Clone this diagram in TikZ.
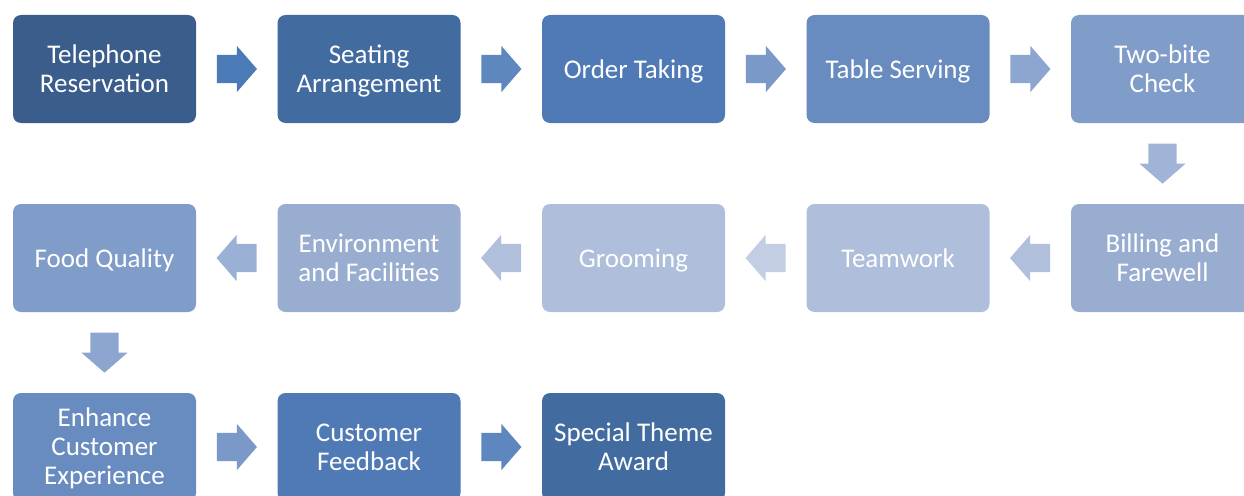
\documentclass[tikz,border=0pt]{standalone}
\usepackage{fontspec}
\setmainfont{Carlito}
\usetikzlibrary{shapes.arrows,calc}

\begin{document}
\begin{tikzpicture}[x=1pt, y={(0,-1pt)},
    stage/.style={rectangle, rounded corners=8pt, minimum width=183pt, minimum height=108pt,
        inner sep=0pt, align=center, text=white, font=\fontsize{27}{29}\selectfont,
        text height=19pt, text depth=0pt},
    twoline/.style={stage, text height=47.6pt},
    threeline/.style={stage, text height=74.5pt},
    blockarrow/.style={single arrow, draw=none, minimum height=40pt, inner xsep=0pt, inner ysep=14pt,
        single arrow head extend=9pt, single arrow tip angle=98, anchor=tail},
    downarrow/.style={blockarrow, shape border rotate=270, inner xsep=14pt, inner ysep=0pt},
    leftarrow/.style={blockarrow, shape border rotate=180}]
    % Define colors
    \definecolor{shadeA}{RGB}{58,93,140}
    \definecolor{shadeB}{RGB}{66,108,160}
    \definecolor{shadeC}{RGB}{79,122,181}
    \definecolor{shadeD}{RGB}{104,140,192}
    \definecolor{shadeE}{RGB}{128,156,200}
    \definecolor{shadeF}{RGB}{152,173,208}
    \definecolor{shadeG}{RGB}{174,190,219}
    \definecolor{arrowA}{RGB}{74,123,183}
    \definecolor{arrowB}{RGB}{94,135,192}
    \definecolor{arrowC}{RGB}{122,153,200}
    \definecolor{arrowD}{RGB}{140,166,208}
    \definecolor{arrowE}{RGB}{160,180,216}
    \definecolor{arrowF}{RGB}{175,191,220}
    \definecolor{arrowG}{RGB}{195,205,228}
    \definecolor{arrowH}{RGB}{155,176,213}

    \clip (0,0) rectangle (1244,495);

    % First row
    \node[twoline, fill=shadeA] (phone) at (104.5,69) {Telephone\\Reservation};
    \node[twoline, fill=shadeB] (seating) at (369,69) {Seating\\Arrangement};
    \node[stage, fill=shadeC] (order) at (633.5,69) {Order Taking};
    \node[stage, fill=shadeD] (serving) at (898,69) {Table Serving};
    \node[twoline, fill=shadeE] (check) at (1162.5,69) {Two-bite\\Check};

    % Second row
    \node[twoline, fill=shadeF] (billing) at (1162.5,258) {Billing and\\Farewell};
    \node[stage, fill=shadeG] (teamwork) at (898,258) {Teamwork};
    \node[stage, fill=shadeG] (grooming) at (633.5,258) {Grooming};
    \node[twoline, fill=shadeF] (environment) at (369,258) {Environment\\and Facilities};
    \node[stage, fill=shadeE] (food) at (104.5,258) {Food Quality};

    % Third row
    \node[threeline, fill=shadeD] (enhance) at (104.5,447) {Enhance\\Customer\\Experience};
    \node[twoline, fill=shadeC] (feedback) at (369,447) {Customer\\Feedback};
    \node[twoline, fill=shadeB] (award) at (633.5,447) {Special Theme\\Award};

    % Arrows (tail placed 20pt back from the gap centre)
    \node[blockarrow, fill=arrowA] (a1) at ($($(phone)!0.5!(seating)$)!20pt!(phone)$) {};
    \node[blockarrow, fill=arrowB] (a2) at ($($(seating)!0.5!(order)$)!20pt!(seating)$) {};
    \node[blockarrow, fill=arrowC] (a3) at ($($(order)!0.5!(serving)$)!20pt!(order)$) {};
    \node[blockarrow, fill=arrowD] (a4) at ($($(serving)!0.5!(check)$)!20pt!(serving)$) {};
    \node[downarrow, fill=arrowE] (a5) at ($($(check)!0.5!(billing)$)!20pt!(check)$) {};
    \node[leftarrow, fill=arrowF] (a6) at ($($(billing)!0.5!(teamwork)$)!20pt!(billing)$) {};
    \node[leftarrow, fill=arrowG] (a7) at ($($(teamwork)!0.5!(grooming)$)!20pt!(teamwork)$) {};
    \node[leftarrow, fill=arrowF] (a8) at ($($(grooming)!0.5!(environment)$)!20pt!(grooming)$) {};
    \node[leftarrow, fill=arrowH] (a9) at ($($(environment)!0.5!(food)$)!20pt!(environment)$) {};
    \node[downarrow, fill=arrowD] (a10) at ($($(food)!0.5!(enhance)$)!20pt!(food)$) {};
    \node[blockarrow, fill=arrowC] (a11) at ($($(enhance)!0.5!(feedback)$)!20pt!(enhance)$) {};
    \node[blockarrow, fill=arrowB] (a12) at ($($(feedback)!0.5!(award)$)!20pt!(feedback)$) {};

\end{tikzpicture}
\end{document}
